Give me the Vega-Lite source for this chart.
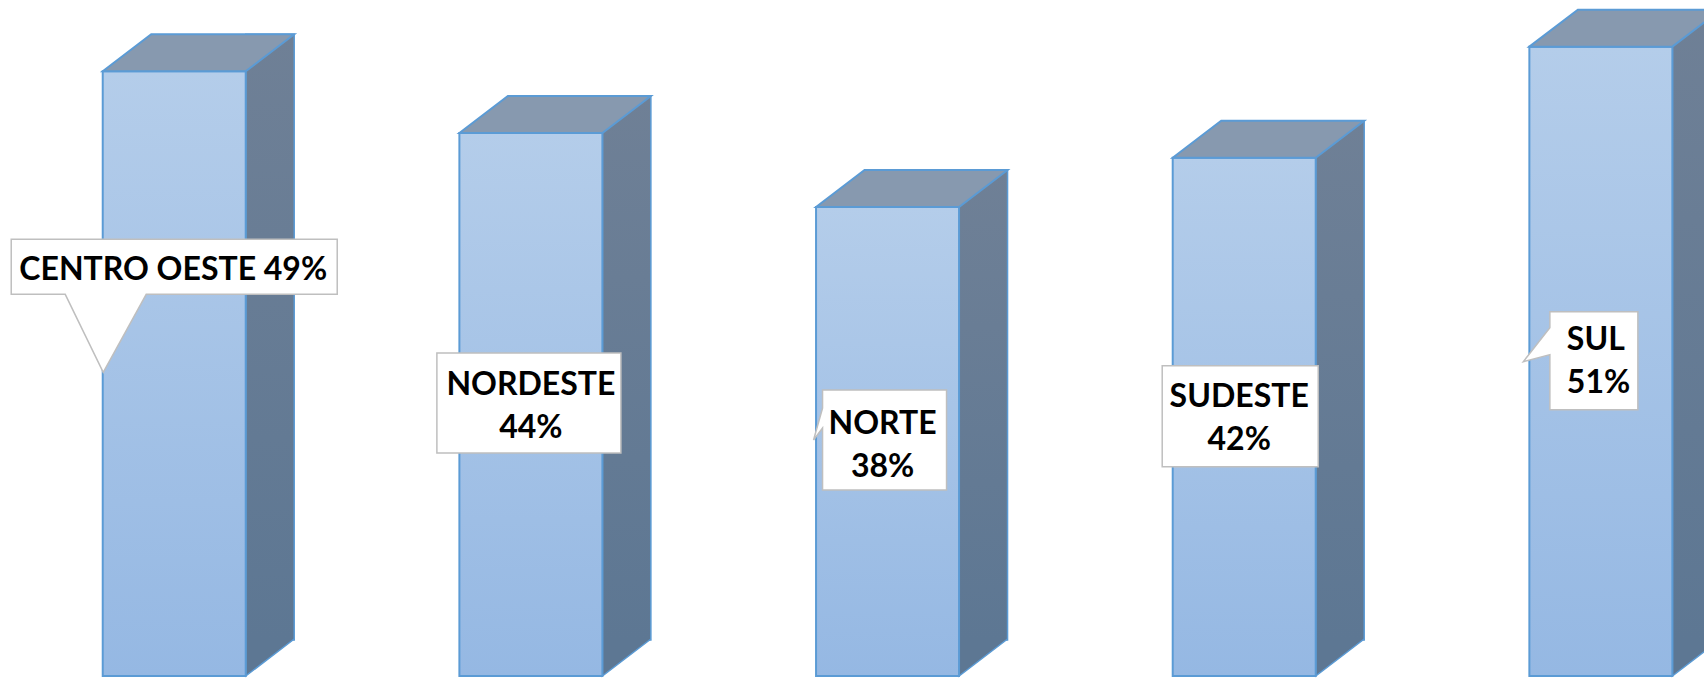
{
  "$schema": "https://vega.github.io/schema/vega-lite/v6.json",
  "width": 1704,
  "height": 678,
  "autosize": {"type": "none"},
  "padding": 0,
  "background": "white",
  "config": {"view": {"stroke": null}},
  "data": {
    "values": [
      {"region": "CENTRO OESTE", "value": 49, "label": "CENTRO OESTE 49%"},
      {"region": "NORDESTE", "value": 44, "label": "NORDESTE\n44%"},
      {"region": "NORTE", "value": 38, "label": "NORTE\n38%"},
      {"region": "SUDESTE", "value": 42, "label": "SUDESTE\n42%"},
      {"region": "SUL", "value": 51, "label": "SUL\n51%"}
    ]
  },
  "encoding": {
    "x": {
      "field": "region",
      "type": "nominal",
      "sort": ["CENTRO OESTE", "NORDESTE", "NORTE", "SUDESTE", "SUL"],
      "scale": {"type": "band", "range": [-4.1, 1779.2], "paddingInner": 0, "paddingOuter": 0},
      "axis": null
    },
    "y": {
      "field": "value",
      "type": "quantitative",
      "scale": {"domain": [0, 54.78], "range": [676, 0], "nice": false, "zero": true},
      "axis": null
    }
  },
  "layer": [
    {
      "mark": {
        "type": "bar",
        "width": 48.5,
        "xOffset": 95.75,
        "yOffset": -37,
        "y2Offset": -36,
        "fill": {"gradient": "linear", "x1": 0, "y1": 0, "x2": 0, "y2": 1,
          "stops": [{"offset": 0, "color": "#6f8096"}, {"offset": 1, "color": "#5d7793"}]},
        "stroke": "#5b9bd5",
        "strokeWidth": 1.5
      },
      "encoding": {"y2": {"datum": 0}}
    },
    {
      "mark": {
        "type": "point",
        "shape": "M71.5,-37L71.5,0L120,-37",
        "size": 4,
        "filled": true,
        "opacity": 1,
        "fill": "#5d7793",
        "stroke": "#5b9bd5",
        "strokeWidth": 1.5
      },
      "encoding": {"y": {"datum": 0, "type": "quantitative"}}
    },
    {
      "mark": {
        "type": "bar",
        "width": 143,
        "fill": {"gradient": "linear", "x1": 0, "y1": 0, "x2": 0, "y2": 1,
          "stops": [{"offset": 0, "color": "#b4cdea"}, {"offset": 1, "color": "#95b8e3"}]},
        "stroke": "#5b9bd5",
        "strokeWidth": 2
      }
    },
    {
      "mark": {
        "type": "point",
        "shape": "M-71.5,0L-23,-37L120,-37L71.5,0Z",
        "size": 4,
        "filled": true,
        "opacity": 1,
        "fill": "#8799af",
        "stroke": "#5b9bd5",
        "strokeWidth": 2
      }
    },
    {
      "mark": {
        "type": "point",
        "size": 4,
        "filled": true,
        "opacity": 1,
        "fill": "white",
        "stroke": "#bfbfbf",
        "strokeWidth": 1.5
      },
      "encoding": {
        "shape": {
          "field": "region",
          "type": "nominal",
          "scale": {
            "domain": ["CENTRO OESTE", "NORDESTE", "NORTE", "SUDESTE", "SUL"],
            "range": [
              "M-163,168L163,168L163,223L-28,223L-71,301L-109,223L-163,223Z",
              "M-94,220L90,220L90,320L-94,320Z",
              "M-65,183L59,183L59,283L-65,283L-65,221L-74,233L-65,201Z",
              "M-82,208L74,208L74,309L-82,309Z",
              "M-51,265L37,265L37,363L-51,363L-51,308L-77.5,315L-51,281Z"
            ]
          },
          "legend": null
        }
      }
    },
    {
      "transform": [{"filter": "datum.region === 'CENTRO OESTE'"}],
      "mark": {"type": "text", "font": "Lato", "fontWeight": "bold", "fontSize": 32, "color": "#000000",
        "align": "center", "baseline": "alphabetic", "lineBreak": "\n", "lineHeight": 43, "dx": -1, "dy": 209},
      "encoding": {"text": {"field": "label"}}
    },
    {
      "transform": [{"filter": "datum.region === 'NORDESTE'"}],
      "mark": {"type": "text", "font": "Lato", "fontWeight": "bold", "fontSize": 32, "color": "#000000",
        "align": "center", "baseline": "alphabetic", "lineBreak": "\n", "lineHeight": 43, "dx": 0, "dy": 262},
      "encoding": {"text": {"field": "label"}}
    },
    {
      "transform": [{"filter": "datum.region === 'NORTE'"}],
      "mark": {"type": "text", "font": "Lato", "fontWeight": "bold", "fontSize": 32, "color": "#000000",
        "align": "center", "baseline": "alphabetic", "lineBreak": "\n", "lineHeight": 43, "dx": -5, "dy": 227},
      "encoding": {"text": {"field": "label"}}
    },
    {
      "transform": [{"filter": "datum.region === 'SUDESTE'"}],
      "mark": {"type": "text", "font": "Lato", "fontWeight": "bold", "fontSize": 32, "color": "#000000",
        "align": "center", "baseline": "alphabetic", "lineBreak": "\n", "lineHeight": 43, "dx": -5, "dy": 249},
      "encoding": {"text": {"field": "label"}}
    },
    {
      "transform": [{"filter": "datum.region === 'SUL'"}],
      "mark": {"type": "text", "font": "Lato", "fontWeight": "bold", "fontSize": 32, "color": "#000000",
        "align": "left", "baseline": "alphabetic", "lineBreak": "\n", "lineHeight": 43, "dx": -34, "dy": 303},
      "encoding": {"text": {"field": "label"}}
    }
  ]
}
